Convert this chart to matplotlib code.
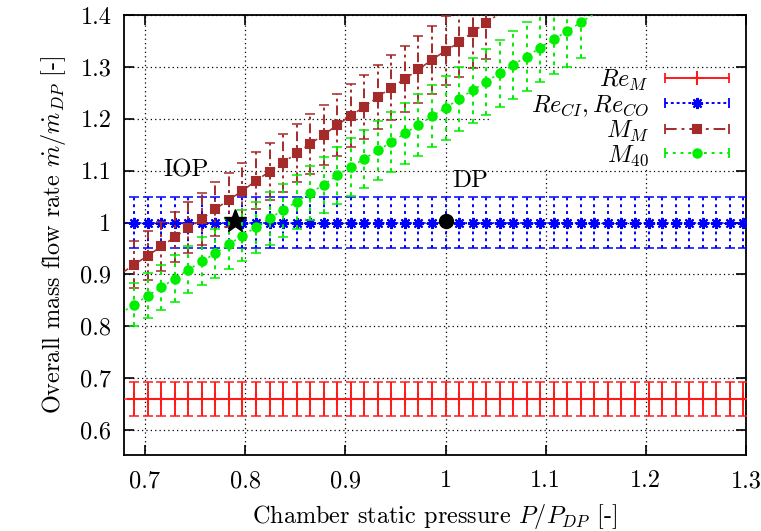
import numpy as np
import matplotlib
matplotlib.use("Agg")
import matplotlib.pyplot as plt
from matplotlib.lines import Line2D
from matplotlib.legend_handler import HandlerBase
from matplotlib.patches import Rectangle
from matplotlib.ticker import FormatStrFormatter

plt.rcParams["font.family"] = "serif"
plt.rcParams["font.serif"] = ["cmr10", "DejaVu Serif"]
plt.rcParams["mathtext.fontset"] = "cm"
plt.rcParams["axes.formatter.use_mathtext"] = True

# chamber pressure normalised by design point pressure
p_ratio = [0.6757, 0.6892, 0.7027, 0.7162, 0.7297, 0.7432, 0.7568, 0.7703, 0.7838, 0.7973,
           0.8108, 0.8243, 0.8378, 0.8514, 0.8649, 0.8784, 0.8919, 0.9054, 0.9189, 0.9324,
           0.9459, 0.9595, 0.9730, 0.9865, 1.0000, 1.0135, 1.0270, 1.0405, 1.0541, 1.0676,
           1.0811, 1.0946, 1.1081, 1.1216, 1.1351, 1.1486, 1.1622, 1.1757, 1.1892, 1.2027,
           1.2162, 1.2297, 1.2432, 1.2568, 1.2703, 1.2838, 1.2973]

re_m = [0.66] * len(p_ratio)
re_ci_co = [1.0] * len(p_ratio)
m_m = [0.901, 0.919, 0.936, 0.954, 0.972, 0.990, 1.007, 1.026, 1.044, 1.061,
       1.081, 1.098, 1.115, 1.134, 1.152, 1.169, 1.188, 1.206, 1.223, 1.242,
       1.260, 1.277, 1.295, 1.314, 1.331, 1.347, 1.367, 1.385, 1.403]
m_40 = [0.825, 0.842, 0.859, 0.875, 0.892, 0.909, 0.925, 0.941, 0.958, 0.975,
        0.991, 1.008, 1.024, 1.040, 1.057, 1.073, 1.091, 1.107, 1.123, 1.139,
        1.155, 1.172, 1.188, 1.205, 1.221, 1.238, 1.255, 1.271, 1.288, 1.304,
        1.320, 1.337, 1.353, 1.369, 1.386, 1.402]
rel_err = 0.05  # 5 % uncertainty on every series

iop = (0.79, 1.003)
dp = (1.0, 1.003)

x_ticks = [0.7, 0.8, 0.9, 1.0, 1.1, 1.2, 1.3]
y_ticks = [0.6, 0.7, 0.8, 0.9, 1.0, 1.1, 1.2, 1.3, 1.4]
xlim = (0.679, 1.3)
ylim = (0.552, 1.4)

series = [
    # label, values, color, line style, bar style, marker, marker size
    (r"$Re_M$", re_m, "#ff1a1a", "-", "-", "+", 10),
    (r"$Re_{CI}, Re_{CO}$", re_ci_co, "#0000ff", (0, (1.5, 1.5)), (0, (1.5, 2)), (8, 2, 0), 8),
    (r"$M_M$", m_m, "#a52a2a", (0, (6, 2.5, 1.5, 2.5)), (0, (5, 2, 1.5, 2)), "s", 6),
    (r"$M_{40}$", m_40, "#00ee00", (0, (1.5, 2.5)), (0, (2, 2.5)), "o", 6),
]


class GnuplotKey(HandlerBase):
    # key sample like gnuplot: line with end caps and the point in the middle
    def __init__(self, styles):
        super().__init__()
        self.styles = styles

    def create_artists(self, legend, orig, xdescent, ydescent, width, height, fontsize, trans):
        y = height / 2 - ydescent
        x0, x1 = -xdescent, width - xdescent
        c = orig.get_color()
        line = Line2D([x0, x1], [y, y], color=c, ls=self.styles[orig.get_label()], lw=1.4)
        caps = Line2D([x0, x1], [y, y], color=c, ls="none", marker="|", ms=7, mew=1.3)
        mk = Line2D([(x0 + x1) / 2], [y], color=c, ls="none", marker=orig.get_marker(),
                    ms=orig.get_markersize(), mew=1.5)
        for a in (line, caps, mk):
            a.set_transform(trans)
        return [line, caps, mk]


fig = plt.figure(figsize=(7.61, 5.31), dpi=100)
ax = fig.add_axes([124 / 761, 76 / 531, 622 / 761, 440 / 531])

handles = []
key_styles = {}
for label, vals, color, ls, bls, marker, ms in series:
    vals = np.array(vals)
    x = np.array(p_ratio[:len(vals)])
    # like gnuplot: points and bars only for samples inside the plot range
    inside = (vals <= ylim[1]) & (x >= xlim[0])
    ax.plot(x, vals, color=color, ls=ls, lw=1.1, marker=marker, ms=ms, mew=1.5,
            markevery=list(np.flatnonzero(inside)), zorder=3)
    eb = ax.errorbar(x[inside], vals[inside], yerr=rel_err * vals[inside], fmt="none",
                     ecolor=color, elinewidth=1.4, capsize=3.5, capthick=1.1, zorder=3)
    eb[2][0].set_linestyle(bls)
    handles.append(Line2D([], [], color=color, marker=marker, ms=ms, label=label))
    key_styles[label] = ls

ax.plot(*iop, marker="*", color="black", ms=17, ls="none", zorder=5)
ax.plot(*dp, marker="o", color="black", ms=10, ls="none", zorder=5)
ax.text(0.718, 1.1, "IOP", fontsize=18, va="center", ha="left")
ax.text(1.007, 1.08, "DP", fontsize=18, va="center", ha="left")

ax.set_xlim(*xlim)
ax.set_ylim(*ylim)
ax.set_xticks(x_ticks)
ax.set_yticks(y_ticks)
ax.xaxis.set_major_formatter(FormatStrFormatter("%g"))
ax.yaxis.set_major_formatter(FormatStrFormatter("%g"))
ax.tick_params(direction="in", top=True, right=True, length=7, width=1.2, labelsize=17.5)
ax.tick_params(axis="x", pad=11)
ax.tick_params(axis="y", pad=9)
for s in ax.spines.values():
    s.set_linewidth(1.3)

ax.set_axisbelow(True)
ax.grid(True, color="black", ls=(0, (1, 2.5)), lw=0.9)

ax.set_xlabel(r"Chamber static pressure $P/P_{DP}$ [-]", fontsize=17.5, labelpad=7)
ax.set_ylabel(r"Overall mass flow rate $\dot{m}/\dot{m}_{DP}$ [-]", fontsize=17.5, labelpad=9)

# opaque key box
ax.add_patch(Rectangle((0.588, 0.655), 0.412, 0.22, transform=ax.transAxes,
                       facecolor="white", edgecolor="none", zorder=1))
ax.legend(handles=handles, handler_map={Line2D: GnuplotKey(key_styles)}, loc="upper right",
          bbox_to_anchor=(0.973, 0.88), frameon=False, markerfirst=False,
          handlelength=2.65, handletextpad=0.65, labelspacing=0.0, borderpad=0,
          borderaxespad=0, fontsize=17.5)

fig.savefig("out.png", dpi=100)
